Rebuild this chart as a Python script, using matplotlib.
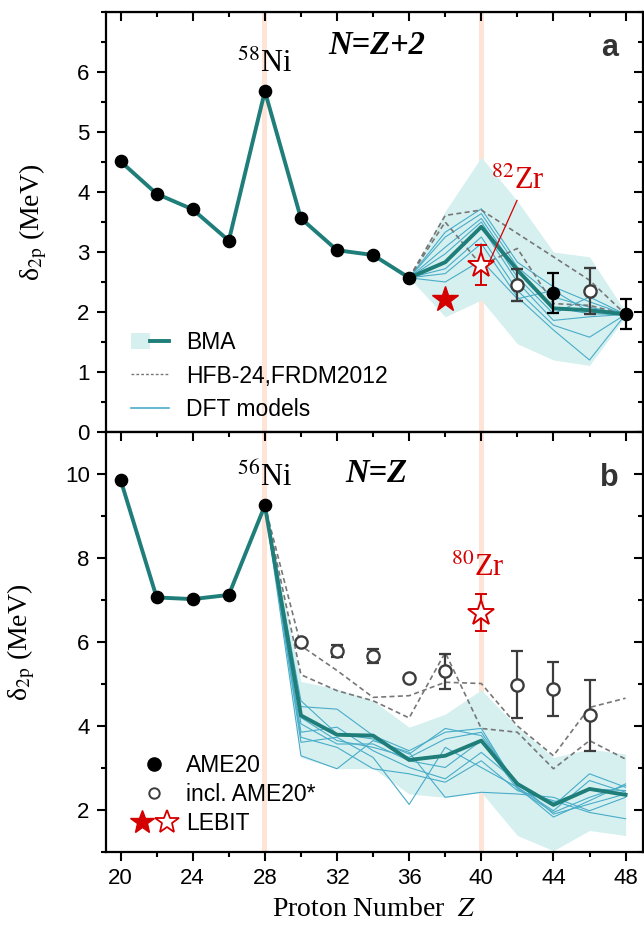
import numpy as np
import matplotlib.pyplot as plt
from matplotlib.legend_handler import HandlerTuple
from matplotlib.patches import Patch
from matplotlib.lines import Line2D

plt.rcParams['font.family'] = ['Liberation Sans', 'DejaVu Sans']
plt.rcParams['mathtext.fontset'] = 'stix'

# ---------------- panel a : N = Z + 2 ----------------
z_a = [20, 22, 24, 26, 28, 30, 32, 34, 36, 38, 40, 42, 44, 46, 48]
bma_a = [4.51, 3.97, 3.71, 3.19, 5.68, 3.56, 3.03, 2.95, 2.57, 2.83, 3.42, 2.70, 2.06, 2.03, 1.96]

ame_z_a = [20, 22, 24, 26, 28, 30, 32, 34, 36, 44, 48]
ame_a = [4.51, 3.97, 3.71, 3.19, 5.68, 3.56, 3.03, 2.95, 2.57, 2.32, 1.96]
ame_err_a = [0, 0, 0, 0, 0, 0, 0, 0, 0, 0.33, 0.25]

open_z_a = [42, 46]
open_a = [2.45, 2.35]
open_err_a = [0.27, 0.38]

lebit_fill_z_a = [38]
lebit_fill_a = [2.22]
lebit_open_z_a = [40]
lebit_open_a = [2.78]
lebit_err_a = [0.33]

# model curves (Z = 36 ... 48)
zm_a = [36, 38, 40, 42, 44, 46, 48]
band_hi_a = [2.57, 3.68, 4.58, 3.85, 3.00, 2.92, 2.00]
band_lo_a = [2.57, 1.92, 2.20, 1.47, 1.20, 1.11, 1.92]
hfb_a = [2.57, 3.61, 3.70, 3.31, 2.92, 2.53, 1.96]
frdm_a = [2.57, 3.50, 2.78, 3.06, 2.14, 2.11, 1.96]
dft_a = [
    [2.57, 3.33, 3.72, 2.83, 2.42, 2.17, 1.96],
    [2.57, 3.25, 3.64, 2.75, 2.25, 2.08, 1.96],
    [2.57, 3.08, 3.56, 2.67, 2.08, 1.97, 1.96],
    [2.57, 2.97, 3.50, 2.58, 1.97, 2.25, 1.96],
    [2.57, 2.83, 3.42, 2.50, 1.86, 1.92, 1.96],
    [2.57, 2.72, 3.25, 2.36, 1.78, 1.58, 1.96],
    [2.57, 2.64, 3.14, 2.25, 1.70, 1.20, 1.96],
    [2.57, 2.50, 2.86, 2.22, 2.36, 2.00, 1.96],
]

# ---------------- panel b : N = Z ----------------
z_b = [20, 22, 24, 26, 28, 30, 32, 34, 36, 38, 40, 42, 44, 46, 48]
bma_b = [9.86, 7.06, 7.02, 7.12, 9.25, 4.25, 3.79, 3.77, 3.19, 3.29, 3.65, 2.62, 2.12, 2.50, 2.36]

ame_z_b = [20, 22, 24, 26, 28]
ame_b = [9.86, 7.06, 7.02, 7.12, 9.25]

open_z_b = [30, 32, 34, 36, 38, 42, 44, 46]
open_b = [5.99, 5.78, 5.67, 5.14, 5.30, 4.98, 4.88, 4.25]
open_err_b = [0, 0.15, 0.17, 0, 0.42, 0.80, 0.64, 0.84]

lebit_open_z_b = [40]
lebit_open_b = [6.69]
lebit_err_b = [0.44]

zm_b = [28, 30, 32, 34, 36, 38, 40, 42, 44, 46, 48]
band_hi_b = [9.25, 5.06, 4.88, 4.60, 3.97, 4.28, 4.86, 3.97, 3.25, 3.45, 3.33]
band_lo_b = [9.25, 3.25, 2.98, 2.99, 2.38, 2.30, 2.42, 1.39, 1.03, 1.51, 1.39]
hfb_b = [9.25, 5.91, 5.32, 4.68, 4.72, 5.04, 5.01, 4.00, 3.29, 4.44, 4.66]
frdm_b = [9.25, 5.22, 4.84, 4.60, 4.19, 5.75, 3.94, 3.85, 2.98, 3.65, 3.21]
dft_b = [
    [9.25, 4.60, 3.81, 3.69, 3.33, 3.94, 3.77, 2.62, 2.10, 2.86, 2.54],
    [9.25, 4.46, 4.40, 3.77, 3.41, 3.85, 3.94, 2.54, 1.98, 2.70, 2.42],
    [9.25, 4.20, 3.65, 3.49, 3.25, 3.69, 3.85, 2.58, 2.18, 2.50, 2.46],
    [9.25, 4.05, 3.57, 3.57, 3.17, 3.01, 3.65, 2.50, 1.94, 2.30, 2.58],
    [9.25, 3.85, 3.97, 3.41, 3.01, 2.74, 3.37, 2.66, 1.90, 2.14, 2.38],
    [9.25, 3.73, 3.49, 2.98, 2.86, 2.66, 3.17, 2.46, 2.22, 1.94, 1.79],
    [9.25, 3.61, 3.73, 3.25, 2.13, 3.49, 3.01, 2.54, 1.83, 2.22, 2.62],
    [9.25, 3.29, 2.98, 3.65, 3.37, 2.30, 2.42, 2.38, 2.30, 1.98, 2.30],
]

# colours
teal = '#1f7e79'
band_c = '#d6f0f0'
dft_c = '#49acc8'
gray_c = '#777777'
red_c = '#d40000'
err_c = '#3c3c3c'
magic_c = '#fde4d6'

fig = plt.figure(figsize=(6.44, 9.27), dpi=100)
ax1 = fig.add_axes([0.164, 0.534, 0.834, 0.453])
ax2 = fig.add_axes([0.164, 0.081, 0.834, 0.453])


def draw_models(ax, zm, lo, hi, dft, hfb, frdm):
    ax.fill_between(zm, lo, hi, color=band_c, lw=0, zorder=1)
    for d in dft:
        ax.plot(zm, d, color=dft_c, lw=0.8, zorder=2)
    ax.plot(zm, hfb, color=gray_c, lw=1.2, ls=(0, (3, 2)), zorder=3)
    ax.plot(zm, frdm, color=gray_c, lw=1.2, ls=(0, (3, 2)), zorder=3)


for ax in (ax1, ax2):
    ax.axvspan(27.86, 28.14, color=magic_c, lw=0, zorder=0)
    ax.axvspan(39.86, 40.14, color=magic_c, lw=0, zorder=0)

# panel a
draw_models(ax1, zm_a, band_lo_a, band_hi_a, dft_a, hfb_a, frdm_a)
ax1.plot(z_a, bma_a, color=teal, lw=2.8, zorder=4)
ax1.plot(ame_z_a, ame_a, 'o', color='black', ms=8.8, zorder=6)
ea = np.array(ame_err_a)
m = ea > 0
ax1.errorbar(np.array(ame_z_a)[m], np.array(ame_a)[m], yerr=ea[m], fmt='none',
             ecolor='black', elinewidth=1.6, capsize=4.5, capthick=1.6, zorder=5)
ax1.errorbar(open_z_a, open_a, yerr=open_err_a, fmt='o', ms=8.8, mfc='white', mec=err_c,
             mew=1.7, ecolor=err_c, elinewidth=1.6, capsize=4.5, capthick=1.6, zorder=6)
ax1.plot(lebit_fill_z_a, lebit_fill_a, '*', color=red_c, ms=19, zorder=7)
ax1.errorbar(lebit_open_z_a, lebit_open_a, yerr=lebit_err_a, fmt='*', ms=19, mfc='white',
             mec=red_c, mew=1.4, ecolor=red_c, elinewidth=1.4, capsize=4.5, capthick=1.4, zorder=7)

# panel b
draw_models(ax2, zm_b, band_lo_b, band_hi_b, dft_b, hfb_b, frdm_b)
ax2.plot(z_b, bma_b, color=teal, lw=2.8, zorder=4)
ax2.plot(ame_z_b, ame_b, 'o', color='black', ms=8.8, zorder=6)
eb = np.array(open_err_b)
m = eb > 0
ax2.errorbar(np.array(open_z_b)[m], np.array(open_b)[m], yerr=eb[m], fmt='none',
             ecolor=err_c, elinewidth=1.6, capsize=4.5, capthick=1.6, zorder=5)
ax2.plot(open_z_b, open_b, 'o', ms=8.8, mfc='white', mec=err_c, mew=1.7, zorder=6)
ax2.errorbar(lebit_open_z_b, lebit_open_b, yerr=lebit_err_b, fmt='*', ms=19, mfc='white',
             mec=red_c, mew=1.4, ecolor=red_c, elinewidth=1.4, capsize=4.5, capthick=1.4, zorder=7)

# axes cosmetics
xmaj = [20, 24, 28, 32, 36, 40, 44, 48]
xmin = [22, 26, 30, 34, 38, 42, 46]
for ax, ymaj, ymin, ylim in ((ax1, [0, 1, 2, 3, 4, 5, 6], np.arange(0, 7.01, 0.5), (0, 7)),
                             (ax2, [2, 4, 6, 8, 10], [1, 3, 5, 7, 9, 11], (1, 11))):
    ax.set_xlim(19.17, 48.95)
    ax.set_ylim(*ylim)
    ax.set_xticks(xmaj)
    ax.set_xticks(xmin, minor=True)
    ax.set_yticks(ymaj)
    ax.set_yticks(ymin, minor=True)
    ax.tick_params(which='both', direction='out', width=1.5, labelsize=16, pad=5)
    ax.tick_params(which='major', length=6.5)
    ax.tick_params(which='minor', length=3.6)
    for s in ax.spines.values():
        s.set_linewidth(1.6)
    top = ax.secondary_xaxis('top')
    top.set_xticks(xmaj)
    top.set_xticks(xmin, minor=True)
    top.tick_params(which='both', direction='in', width=1.5, labeltop=False)
    top.tick_params(which='major', length=6.5)
    top.tick_params(which='minor', length=3.6)
    rgt = ax.secondary_yaxis('right')
    rgt.set_yticks(ymaj)
    rgt.set_yticks(ymin, minor=True)
    rgt.tick_params(which='both', direction='in', width=1.5, labelright=False)
    rgt.tick_params(which='major', length=6.5)
    rgt.tick_params(which='minor', length=3.6)
    ax.set_ylabel('δ$_{\\mathrm{2p}}$ (MeV)', family='Liberation Serif', fontsize=20, labelpad=20)

ax1.tick_params(axis='x', labelbottom=False)
ax2.set_xlabel('Proton Number  $Z$', family='Liberation Serif', fontsize=20, labelpad=6)

# annotations
serif = 'Liberation Serif'
ax1.text(28, 6.13, '$^{58}$Ni', family=serif, fontsize=22, ha='center', va='center')
ax1.text(34.2, 6.45, 'N=Z+2', family=serif, style='italic', weight='bold', fontsize=23.5,
         ha='center', va='center')
ax1.text(47.1, 6.4, 'a', weight='bold', color='#333333', fontsize=22, ha='center', va='center')
ax1.text(42.0, 4.18, '$^{82}$Zr', family=serif, color=red_c, fontsize=22, ha='center', va='center')
ax1.plot([41.98, 40.41], [3.86, 2.81], color=red_c, lw=0.9, zorder=8)

ax2.text(28, 9.92, '$^{56}$Ni', family=serif, fontsize=22, ha='center', va='center')
ax2.text(34.2, 10.0, 'N=Z', family=serif, style='italic', weight='bold', fontsize=23.5,
         ha='center', va='center')
ax2.text(47.1, 9.9, 'b', weight='bold', color='#333333', fontsize=22, ha='center', va='center')
ax2.text(39.8, 7.75, '$^{80}$Zr', family=serif, color=red_c, fontsize=22, ha='center', va='center')

# legends
h_bma = (Patch(color=band_c, lw=0), Line2D([], [], color=teal, lw=2.8))
h_hfb = Line2D([], [], color=gray_c, lw=1.0, ls=(0, (2, 1.5)))
h_dft = Line2D([], [], color=dft_c, lw=1.2)
ax1.legend([h_bma, h_hfb, h_dft], ['BMA', 'HFB-24,FRDM2012', 'DFT models'],
           handler_map={tuple: HandlerTuple(ndivide=None, pad=0)},
           loc='upper left', bbox_to_anchor=(0.047, 0.24), frameon=False, fontsize=16.5,
           handlelength=1.66, handletextpad=0.73, labelspacing=0.45, borderpad=0, borderaxespad=0)

h_ame = Line2D([], [], ls='none', marker='o', color='black', ms=9.5)
h_inc = Line2D([], [], ls='none', marker='o', mfc='white', mec=err_c, mew=1.4, ms=7.5)
h_lf = Line2D([], [], ls='none', marker='*', color=red_c, ms=18)
h_lo = Line2D([], [], ls='none', marker='*', mfc='white', mec=red_c, mew=1.3, ms=18)
ax2.legend([h_ame, h_inc, (h_lf, h_lo)], ['AME20', 'incl. AME20*', 'LEBIT'],
           handler_map={tuple: HandlerTuple(ndivide=None, pad=0.3)},
           loc='upper left', bbox_to_anchor=(0.05, 0.232), frameon=False, fontsize=16.5,
           handlelength=1.9, handletextpad=0.42, labelspacing=0.25, borderpad=0, borderaxespad=0)

fig.savefig('out.png', dpi=100)
